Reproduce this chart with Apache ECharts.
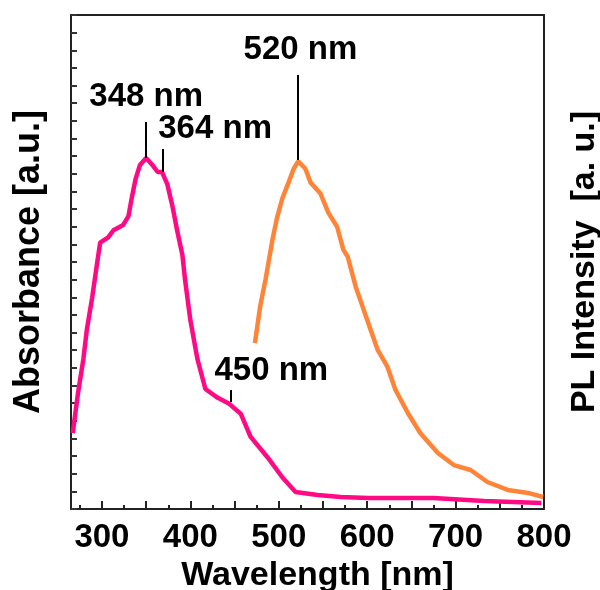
<!DOCTYPE html>
<html lang="en">
<head>
    <meta charset="UTF-8">
    <title>Absorbance / PL</title>
    <script src="https://cdn.jsdelivr.net/npm/echarts@6/dist/echarts.min.js" type="text/javascript"></script>
    <style>
        html, body { margin: 0; padding: 0; background: #fff; }
        #chart { width: 600px; height: 590px; }
    </style>
</head>
<body>
<div id="chart"></div>
<script>
    //吸收谱 (wavelength nm, absorbance a.u.)
    var absWl  = [267, 273, 279, 283, 289, 295, 298, 307, 313, 324, 330, 334, 338, 343, 350, 357, 363, 368, 374, 380, 385, 391, 394, 400, 408, 417, 431, 443, 457, 468, 487, 504, 519, 544, 570, 601, 675, 732, 797];
    var absVal = [4.3, 6.6, 8.5, 10.2, 12.0, 14.1, 15.1, 15.4, 15.8, 16.1, 16.6, 17.7, 18.7, 19.5, 19.9, 19.5, 19.1, 19.1, 18.4, 17.1, 15.8, 14.4, 13.0, 10.7, 8.5, 6.8, 6.3, 6.0, 5.4, 4.1, 2.95, 1.8, 0.96, 0.79, 0.68, 0.62, 0.62, 0.45, 0.34];

    //PL谱
    var plWl  = [473, 479, 485, 493, 498, 504, 511, 517, 522, 530, 536, 547, 556, 566, 573, 578, 587, 596, 612, 623, 632, 646, 660, 680, 698, 717, 736, 759, 782, 799];
    var plVal = [9.4, 11.5, 13.0, 15.3, 16.5, 17.6, 18.5, 19.3, 19.7, 19.3, 18.5, 17.9, 16.8, 16.0, 14.7, 14.3, 12.6, 11.3, 9.0, 8.05, 6.75, 5.44, 4.31, 3.17, 2.49, 2.21, 1.53, 1.08, 0.91, 0.68];

    //刻度
    var xLabels    = [300, 400, 500, 600, 700, 800];
    var xTickMajor = [300, 350, 400, 450, 500, 550, 600, 650, 700, 750, 800];
    var xTickMinor = [275, 325, 375, 425, 475, 525, 575, 625, 675, 725, 775];

    //峰标注
    var peakText  = ['348 nm', '364 nm', '450 nm', '520 nm'];
    var peakX     = [350, 369.3, 445.2, 521];
    var peakFrom  = [19.9, 19.1, 6.07, 19.78];
    var peakTo    = [21.94, 20.4, 6.75, 24.6];
    var textX     = [350, 428, 491.6, 524.5];
    var textY     = [23.36, 21.54, 7.82, 26.02];
    var peakOnPL  = [false, false, false, true];

    var font = 'Liberation Sans, Arial, sans-serif';

    function lineMarks(pl) {
        var out = [];
        for (var i = 0; i < peakText.length; i++) {
            if (peakOnPL[i] !== pl) continue;
            out.push([{coord: [peakX[i], peakFrom[i]]}, {coord: [peakX[i], peakTo[i]]}]);
        }
        return out;
    }
    function textMarks(pl) {
        var out = [];
        for (var i = 0; i < peakText.length; i++) {
            if (peakOnPL[i] !== pl) continue;
            out.push({coord: [textX[i], textY[i]], value: peakText[i]});
        }
        return out;
    }
    function markPointOpt(pl) {
        return {
            symbol: 'circle',
            symbolSize: 1,
            itemStyle: {color: 'rgba(0,0,0,0)'},
            label: {
                show: true, position: 'inside', color: '#000',
                fontFamily: font, fontWeight: 'bold', fontSize: 33,
                formatter: function (p) { return p.value; }
            },
            data: textMarks(pl)
        };
    }
    function markLineOpt(pl) {
        return {
            symbol: 'none', silent: true,
            lineStyle: {color: '#000', width: 2, type: 'solid'},
            label: {show: false},
            data: lineMarks(pl)
        };
    }

    function pairs(xs, ys) {
        var d = [];
        for (var i = 0; i < xs.length; i++) d.push([xs[i], ys[i]]);
        return d;
    }

    var axisLineStyle = {show: true, lineStyle: {color: '#222', width: 2}};

    var option = {
        animation: false,
        grid: {left: 71, right: 56, top: 15, bottom: 81, outerBoundsMode: 'none', containLabel: false},
        xAxis: [
            {
                type: 'value', position: 'bottom', min: 265, max: 800,
                axisLine: axisLineStyle,
                axisTick: {show: true, inside: true, length: 8, customValues: xTickMajor, lineStyle: {color: '#222', width: 2}},
                axisLabel: {customValues: xLabels, color: '#000', fontFamily: font, fontWeight: 'bold', fontSize: 33, margin: 12},
                splitLine: {show: false},
                name: 'Wavelength [nm]', nameLocation: 'middle', nameGap: 40,
                nameTextStyle: {color: '#000', fontFamily: font, fontWeight: 'bold', fontSize: 34, padding: [0, 0, 0, 20]}
            },
            {
                type: 'value', position: 'bottom', min: 265, max: 800,
                axisLine: {show: false},
                axisTick: {show: true, inside: true, length: 4, customValues: xTickMinor, lineStyle: {color: '#222', width: 2}},
                axisLabel: {show: false},
                splitLine: {show: false}
            },
            {
                type: 'value', position: 'top', min: 265, max: 800,
                axisLine: axisLineStyle,
                axisTick: {show: false},
                axisLabel: {show: false},
                splitLine: {show: false}
            }
        ],
        yAxis: [
            {
                type: 'value', position: 'left', min: 0, max: 28, interval: 1,
                axisLine: axisLineStyle,
                axisTick: {show: true, inside: true, length: 6, lineStyle: {color: '#333', width: 2}},
                axisLabel: {show: false},
                splitLine: {show: false},
                name: 'Absorbance [a.u.]', nameLocation: 'middle', nameGap: 24, nameRotate: 90,
                nameTextStyle: {color: '#000', fontFamily: font, fontWeight: 'bold', fontSize: 36}
            },
            {
                type: 'value', position: 'right', min: 0, max: 28,
                axisLine: axisLineStyle,
                axisTick: {show: false},
                axisLabel: {show: false},
                splitLine: {show: false},
                name: 'PL Intensity  [a. u.]', nameLocation: 'middle', nameGap: 24, nameRotate: 90,
                nameTextStyle: {color: '#000', fontFamily: font, fontWeight: 'bold', fontSize: 34, padding: [0, 0, 30, 0]}
            }
        ],
        series: [
            {
                name: 'Absorbance', type: 'line', xAxisIndex: 0, yAxisIndex: 0,
                showSymbol: false, smooth: false,
                lineStyle: {color: '#ff0a84', width: 4.5},
                data: pairs(absWl, absVal),
                markLine: markLineOpt(false),
                markPoint: markPointOpt(false)
            },
            {
                name: 'PL', type: 'line', xAxisIndex: 0, yAxisIndex: 1,
                showSymbol: false, smooth: false,
                lineStyle: {color: '#ff8438', width: 4.5},
                data: pairs(plWl, plVal),
                markLine: markLineOpt(true),
                markPoint: markPointOpt(true)
            }
        ]
    };

    var chart = echarts.init(document.getElementById('chart'));
    chart.setOption(option);
</script>
</body>
</html>
